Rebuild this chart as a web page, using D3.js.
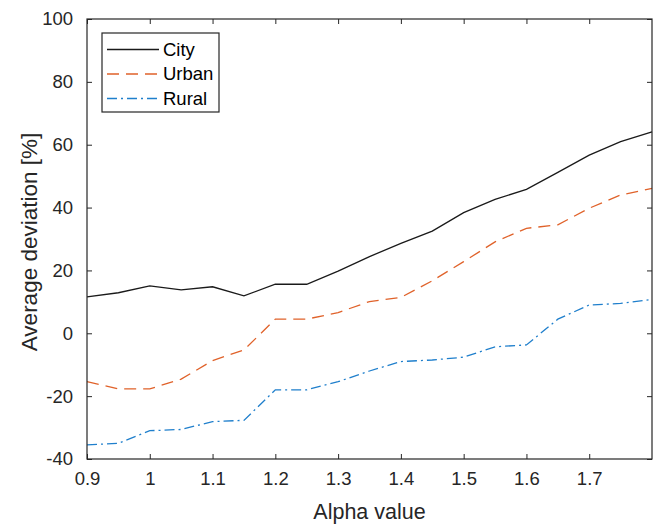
<!DOCTYPE html>
<html>
<head>
<meta charset="utf-8">
<script src="https://cdn.jsdelivr.net/npm/d3@7"></script>
<style>
  body { margin: 0; background: #fff; }
  svg { display: block; font-family: "Liberation Sans", Arial, Helvetica, sans-serif; }
</style>
</head>
<body>
<svg id="chart" width="662" height="526"></svg>
<script>
// Alpha values sampled every 0.05
const alpha = [0.9, 0.95, 1.0, 1.05, 1.1, 1.15, 1.2, 1.25, 1.3, 1.35, 1.4, 1.45, 1.5, 1.55, 1.6, 1.65, 1.7, 1.75, 1.8];
const city  = [11.6, 12.9, 15.1, 13.8, 14.8, 11.9, 15.6, 15.6, 19.8, 24.4, 28.6, 32.5, 38.4, 42.6, 45.8, 51.2, 56.7, 61.0, 64.1];
const urban = [-15.4, -17.7, -17.7, -14.6, -8.7, -5.3, 4.5, 4.5, 6.6, 10.1, 11.4, 16.7, 22.8, 29.1, 33.4, 34.5, 39.8, 44.0, 46.1];
const rural = [-35.5, -35.0, -31.0, -30.6, -28.1, -27.7, -18.0, -18.0, -15.4, -12.0, -9.0, -8.5, -7.6, -4.3, -3.7, 4.5, 9.0, 9.5, 10.8];

const xTicks = [0.9, 1.0, 1.1, 1.2, 1.3, 1.4, 1.5, 1.6, 1.7];
const yTicks = [-40, -20, 0, 20, 40, 60, 80, 100];

const seriesNames = ["City", "Urban", "Rural"];
const seriesValues = [city, urban, rural];

const styles = {
  City:  { color: "#1a1a1a", dash: null },
  Urban: { color: "#E0622A", dash: "12,7" },
  Rural: { color: "#1F7FCC", dash: "10,4,2,4" }
};

const svg = d3.select("#chart");
const margin = { left: 87, right: 10, top: 19, bottom: 67 };
const W = 662, H = 526;
const iw = W - margin.left - margin.right;
const ih = H - margin.top - margin.bottom;

const x = d3.scaleLinear().domain([0.9, 1.8]).range([0, iw]);
const y = d3.scaleLinear().domain([-40, 100]).range([ih, 0]);

const g = svg.append("g").attr("transform", `translate(${margin.left},${margin.top})`);

const axisColor = "#262626";
const tickFont = "18.5px";
const plain = d => String(d);   // ASCII hyphen for negatives

// Series lines
const line = d3.line().x((d, i) => x(alpha[i])).y(d => y(d));
seriesNames.forEach((name, k) => {
  g.append("path")
    .datum(seriesValues[k])
    .attr("fill", "none")
    .attr("stroke", styles[name].color)
    .attr("stroke-width", 1.3)
    .attr("stroke-dasharray", styles[name].dash)
    .attr("d", line);
});

// Axes with inward ticks on all four sides
function styleAxis(sel) {
  sel.select(".domain").remove();
  sel.selectAll("line").attr("stroke", axisColor).attr("stroke-width", 1);
  sel.selectAll("text").attr("fill", axisColor).style("font-size", tickFont);
}

const xAxis = g.append("g").attr("transform", `translate(0,${ih})`)
  .call(d3.axisBottom(x).tickValues(xTicks).tickFormat(plain).tickSizeInner(-5).tickSizeOuter(0).tickPadding(13));
styleAxis(xAxis);

const xTop = g.append("g")
  .call(d3.axisTop(x).tickValues(xTicks).tickFormat("").tickSizeInner(-5).tickSizeOuter(0));
styleAxis(xTop);

const yAxis = g.append("g")
  .call(d3.axisLeft(y).tickValues(yTicks).tickFormat(plain).tickSizeInner(-5).tickSizeOuter(0).tickPadding(14));
styleAxis(yAxis);

const yRight = g.append("g").attr("transform", `translate(${iw},0)`)
  .call(d3.axisRight(y).tickValues(yTicks).tickFormat("").tickSizeInner(-5).tickSizeOuter(0));
styleAxis(yRight);

// Plot box
g.append("rect")
  .attr("x", 0).attr("y", 0).attr("width", iw).attr("height", ih)
  .attr("fill", "none").attr("stroke", axisColor).attr("stroke-width", 1.2);

// Axis titles
svg.append("text")
  .attr("x", margin.left + iw / 2).attr("y", 519)
  .attr("text-anchor", "middle")
  .attr("fill", axisColor)
  .style("font-size", "21.5px")
  .text("Alpha value");

svg.append("text")
  .attr("transform", `translate(37,${margin.top + ih / 2 + 3}) rotate(-90)`)
  .attr("text-anchor", "middle")
  .attr("fill", axisColor)
  .style("font-size", "22.5px")
  .text("Average deviation [%]");

// Legend
const lg = g.append("g").attr("transform", "translate(15,14)");
lg.append("rect")
  .attr("x", 0).attr("y", 0).attr("width", 117).attr("height", 79)
  .attr("fill", "#fff").attr("stroke", axisColor).attr("stroke-width", 1.2);
seriesNames.forEach((name, k) => {
  const ry = 16.5 + k * 24.5;
  lg.append("line")
    .attr("x1", 5).attr("x2", 57).attr("y1", ry).attr("y2", ry)
    .attr("stroke", styles[name].color)
    .attr("stroke-width", 1.3)
    .attr("stroke-dasharray", styles[name].dash);
  lg.append("text")
    .attr("x", 61).attr("y", ry)
    .attr("dy", "0.35em")
    .attr("fill", "#000")
    .style("font-size", "18.5px")
    .text(name);
});
</script>
</body>
</html>
